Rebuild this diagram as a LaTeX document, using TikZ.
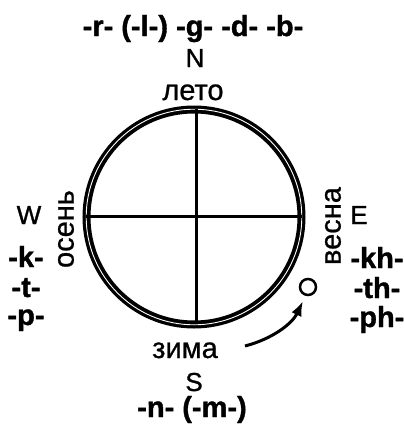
\documentclass[tikz,border=0pt]{standalone}
\usepackage{fontspec}
\setmainfont{Liberation Sans}
\newfontfamily\heavyfont[FakeBold=1.2]{Liberation Sans Bold}
\newfontfamily\medfont[FakeBold=0.8]{Liberation Sans}
\newfontfamily\capfont[FakeBold=1.1]{Liberation Sans}
\usetikzlibrary{arrows.meta}
\tikzset{
  cons/.style={font=\fontsize{29}{29}\heavyfont, inner sep=0pt, anchor=base},
  season/.style={font=\fontsize{29}{29}\medfont, inner sep=0pt},
  cardinal/.style={font=\fontsize{26}{26}\capfont, inner sep=0pt, anchor=base},
}
\begin{document}
\begin{tikzpicture}[x=1pt,y=-1pt]
\useasboundingbox (0,0) rectangle (404,432);
% ring
\coordinate (c) at (194,217);
\draw[line width=8pt] (c) circle[radius=107.5];
\draw[white,line width=0.9pt] (c) circle[radius=107.8];
% cross
\coordinate (ctop) at (196,109);
\coordinate (cbot) at (196,324);
\coordinate (cleft) at (86,216);
\coordinate (cright) at (302,216);
\draw[line width=3pt] (ctop) -- (cbot);
\draw[line width=3pt] (cleft) -- (cright);
% top
\node[cons] (top) at (193,36) {-r- (-l-) -g- -d- -b-};
\node[cardinal] (N) at (195,67) {N};
\node[season, anchor=base] (leto) at (193,100) {лето};
% left
\node[cardinal] (W) at (29,224) {W};
\node[cons] (k) at (26,267) {-k-};
\node[cons] (t) at (26,297) {-t-};
\node[cons] (p) at (26,325) {-p-};
\node[season, rotate=90] (osen) at (66,229) {осень};
% right
\node[season, rotate=90] (vesna) at (333,226) {весна};
\node[cardinal] (E) at (359,224) {E};
\node[cons] (kh) at (377,268) {-kh-};
\node[cons] (th) at (377,298) {-th-};
\node[cons] (ph) at (377,327) {-ph-};
\node[circle, draw, line width=2.5pt, minimum size=16pt, inner sep=0pt] (o) at (308,287) {};
% bottom
\node[season, anchor=base] (zima) at (185,358) {зима};
\node[cardinal] (S) at (194,391) {S};
\node[cons] (nm) at (192,417) {-n- (-m-)};
% arrow
\coordinate (a0) at (245,346);
\coordinate (a1) at (303,301);
\draw[line width=3pt, -{Latex[length=15pt,width=11pt]}] (a0) .. controls (272,339) and (292,324) .. (a1);
\end{tikzpicture}
\end{document}
